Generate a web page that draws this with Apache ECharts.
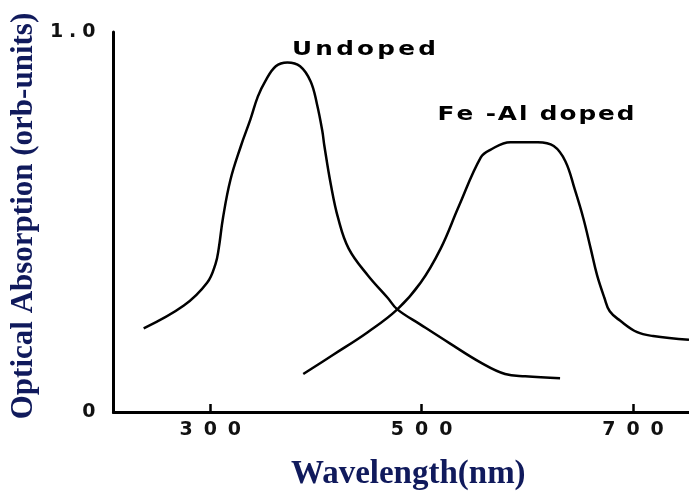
<!DOCTYPE html>
<html lang="en">
<head>
<meta charset="UTF-8">
<title>Optical Absorption</title>
<style>
  body { margin: 0; background: #fff; }
  #chart { width: 689px; height: 496px; }
</style>
</head>
<body>
<div id="chart"></div>
<script src="https://cdn.jsdelivr.net/npm/echarts@6/dist/echarts.min.js"></script>
<script>
// values (wavelength in nm, absorption in arb. units)
const undopedNm  = [237, 275, 297, 305, 308, 312, 319, 329, 338, 345, 352, 362, 373, 385, 395, 401, 406, 408, 414, 421, 431, 449, 468, 477, 499, 527, 556, 579, 598, 631];
const undopedAbs = [0.22, 0.28, 0.34, 0.39, 0.43, 0.51, 0.61, 0.70, 0.77, 0.83, 0.87, 0.91, 0.92, 0.91, 0.87, 0.81, 0.74, 0.70, 0.60, 0.51, 0.43, 0.36, 0.30, 0.27, 0.23, 0.18, 0.13, 0.10, 0.094, 0.089];
const feAlNm  = [388, 416, 449, 477, 499, 518, 535, 556, 565, 584, 610, 625, 636, 645, 653, 660, 666, 673, 678, 688, 704, 719, 753];
const feAlAbs = [0.10, 0.15, 0.21, 0.27, 0.34, 0.43, 0.54, 0.67, 0.69, 0.71, 0.71, 0.70, 0.66, 0.585, 0.51, 0.43, 0.36, 0.30, 0.265, 0.24, 0.21, 0.20, 0.19];
const xTicks = [300, 500, 700];
const yTicks = [0, 1];
const yTickLabels = ['0', '1.0'];

const xMin = 208.5, xMax = 753;

// the lettering in the figure is spaced wide, so every character gets its own box
const measure = document.createElement('canvas').getContext('2d');
function spaced(text, family, size, extra, rich) {
  measure.font = 'bold ' + size + 'px ' + family;
  return text.split('').map(ch => {
    const key = 'c' + ch.charCodeAt(0);
    rich[key] = {
      width: measure.measureText(ch).width + extra,
      align: 'center',
      fontFamily: family,
      fontWeight: 'bold',
      fontSize: size
    };
    return '{' + key + '|' + ch + '}';
  }).join('');
}

const sans = '"DejaVu Sans"';
const xRich = {}, yRich = {}, undopedRich = {}, feAlRich = {};
const xLabelText = xTicks.map(v => spaced(String(v), sans, 19, 11, xRich));
const yLabelText = yTickLabels.map(t => spaced(t, sans, 19, 6, yRich));
const undopedText = spaced('Undoped', sans, 19, 2.5, undopedRich);
const feAlText = spaced('Fe -Al doped', sans, 19, 1.5, feAlRich);

const titleStyle = {
  fontFamily: '"Liberation Serif"',
  fontWeight: 'bold',
  fontSize: 31,
  color: '#101a5c'
};
const black = { color: '#000', width: 3 };
const curve = { color: '#000', width: 2.5 };

const chart = echarts.init(document.getElementById('chart'));
chart.setOption({
  animation: false,
  grid: { left: 113, top: 32, right: 0, bottom: 83 },
  xAxis: [
    {
      type: 'value',
      min: xMin,
      max: xMax,
      axisLine: { show: true, onZero: false, lineStyle: black },
      axisTick: { show: true, inside: true, length: 8, customValues: xTicks, lineStyle: { color: '#000', width: 2.5 } },
      axisLabel: {
        customValues: xTicks,
        formatter: v => xLabelText[xTicks.indexOf(v)],
        rich: xRich,
        margin: 9,
        color: '#111'
      },
      splitLine: { show: false },
      name: 'Wavelength(nm)',
      nameLocation: 'middle',
      nameGap: 46,
      nameTextStyle: Object.assign({}, titleStyle, { fontSize: 33, padding: [0, 0, 0, 14] })
    },
    {
      type: 'value',
      position: 'top',
      min: xMin,
      max: xMax,
      axisLine: { show: true, lineStyle: black },
      axisTick: { show: false },
      axisLabel: { show: false },
      splitLine: { show: false }
    }
  ],
  yAxis: {
    type: 'value',
    min: 0,
    max: 1,
    axisLine: { show: true, lineStyle: black },
    axisTick: { show: false },
    splitLine: { show: false },
    axisLabel: {
      customValues: yTicks,
      formatter: v => yLabelText[yTicks.indexOf(v)],
      rich: yRich,
      margin: 15,
      color: '#111'
    },
    name: 'Optical Absorption (orb-units)',
    nameLocation: 'middle',
    nameRotate: 90,
    nameGap: 65,
    nameTextStyle: Object.assign({}, titleStyle, { padding: [0, 0, 0, 12] })
  },
  graphic: [
    {
      type: 'text', x: 364, y: 50, scaleX: 1.3, silent: true,
      style: { text: undopedText, rich: undopedRich, fill: '#000', align: 'center', verticalAlign: 'middle' }
    },
    {
      type: 'text', x: 536, y: 115, scaleX: 1.3, silent: true,
      style: { text: feAlText, rich: feAlRich, fill: '#000', align: 'center', verticalAlign: 'middle' }
    }
  ],
  series: [
    {
      name: 'Undoped',
      type: 'line',
      data: undopedNm.map((x, i) => [x, undopedAbs[i]]),
      symbol: 'none',
      smooth: 0.4,
      lineStyle: curve,
      silent: true
    },
    {
      name: 'Fe-Al doped',
      type: 'line',
      data: feAlNm.map((x, i) => [x, feAlAbs[i]]),
      symbol: 'none',
      smooth: 0.4,
      lineStyle: curve,
      silent: true
    }
  ]
});
</script>
</body>
</html>
